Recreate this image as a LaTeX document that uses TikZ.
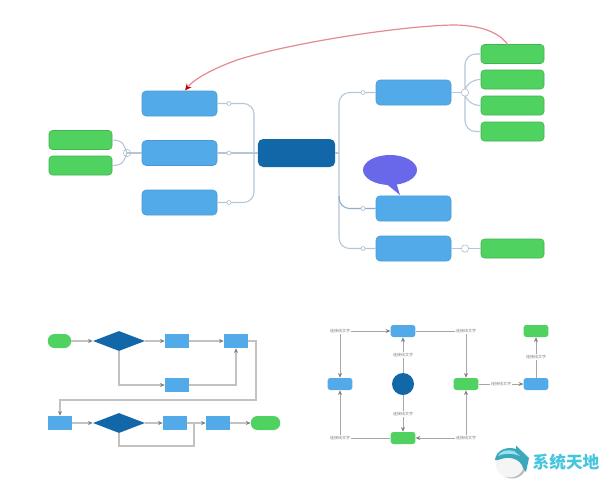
\documentclass[tikz,border=0pt]{standalone}
\usepackage{fontspec}
\newfontfamily\cjk{Noto Sans CJK SC}
\usetikzlibrary{arrows.meta,shapes.geometric}
\definecolor{cblue}{HTML}{52ABE8}
\definecolor{cgreen}{HTML}{4FD25F}
\definecolor{cdark}{HTML}{1267A8}
\definecolor{cline}{HTML}{B4C6D9}
\definecolor{cgray}{HTML}{C2C2C2}
\definecolor{cviolet}{HTML}{6A68EA}
\definecolor{cred}{HTML}{E58A92}
\definecolor{cmark}{HTML}{45C6DC}
\tikzset{
  x=0.75pt,y=-0.75pt,
  bigblue/.style={draw=cblue!90!black,line width=0.4pt,fill=cblue,rounded corners=3pt,minimum width=56.25pt,minimum height=18.75pt,inner sep=0pt},
  biggreen/.style={draw=cgreen!85!black,line width=0.4pt,fill=cgreen,rounded corners=2.5pt,minimum width=47.25pt,minimum height=14.25pt,inner sep=0pt},
  rootbox/.style={fill=cdark,rounded corners=4pt,minimum width=58pt,minimum height=21pt,inner sep=0pt},
  tree/.style={draw=cline,line width=0.8pt,rounded corners=8pt},
  knob/.style={circle,draw=cline!80!gray,fill=white,line width=0.4pt,minimum size=3pt,inner sep=0pt},
  bigknob/.style={circle,draw=cline!80!gray,fill=white,line width=0.4pt,minimum size=5.5pt,inner sep=0pt},
  fblue/.style={fill=cblue,minimum width=18pt,minimum height=10.5pt,inner sep=0pt},
  fterm/.style={fill=cgreen,rounded corners=5pt,minimum height=10.5pt,inner sep=0pt},
  fdia/.style={diamond,aspect=2.6,fill=cdark,minimum width=39pt,minimum height=15pt,inner sep=0pt},
  flow/.style={draw=cgray,line width=0.8pt,-{Stealth[length=3.5pt,width=3pt,color=gray]}},
  flowplain/.style={draw=cgray,line width=0.8pt},
  cbox/.style={rounded corners=2pt,minimum width=18.5pt,minimum height=9pt,inner sep=0pt},
  link/.style={draw=gray!70,line width=0.6pt,-{Stealth[length=3.5pt,width=3pt,color=gray]}},
  linkplain/.style={draw=gray!70,line width=0.6pt},
  % NOTE: the reference's connector labels are illegible; their wording below is a guess, not a transcription
  tiny/.style={font=\fontsize{3}{3.5}\selectfont\cjk,text=gray,fill=white,inner sep=0.8pt}
}
\begin{document}
\begin{tikzpicture}
\useasboundingbox (0,0) rectangle (600,479);
\fill[white] (0,0) rectangle (600,479);
% mind map nodes
\node[rootbox] (root) at (296.5,153) {};
\node[bigblue] (l1) at (179.5,103.5) {};
\node[bigblue] (l2) at (179.5,153) {};
\node[bigblue] (l3) at (179.5,202.5) {};
\node[biggreen] (gl1) at (80.5,140) {};
\node[biggreen] (gl2) at (80.5,165.5) {};
\node[bigblue] (r1) at (413.5,92.5) {};
\node[bigblue,minimum height=19pt] (r2) at (413.5,208.5) {};
\node[bigblue] (r3) at (413.5,248.5) {};
\node[biggreen] (g1) at (512.5,54) {};
\node[biggreen] (g2) at (512.5,79.5) {};
\node[biggreen] (g3) at (512.5,105.5) {};
\node[biggreen] (g4) at (512.5,131.5) {};
\node[biggreen] (g5) at (512.5,248.5) {};
\coordinate (jl) at (127,153);
\coordinate (jr) at (465,92.5);
\coordinate (jg) at (465,248.5);
\coordinate (tr) at (339,153);
\coordinate (redstart) at (508,45);
\coordinate (redend) at (185,90.5);
% mind map connectors
\draw[tree] (l1.east) -- (254,103.5) -- (254,202.5) -- (l3.east);
\draw[tree] (l2.east) -- (root.west);
\draw[tree] (root.east) -- (tr);
\draw[tree] (r1.west) -- (339,92.5) -- (339,248.5) -- (r3.west);
\draw[tree,draw=cline!75!cdark] (339,196) |- (r2.west);
\draw[tree] (r1.east) -- (jr);
\draw[tree] (g1.west) -- (465,54) -- (465,131.5) -- (g4.west);
\draw[tree] (jr) to[out=90,in=180] (g2.west);
\draw[tree] (jr) to[out=-90,in=180] (g3.west);
\draw[tree] (r3.east) -- (g5.west);
\draw[tree] (l2.west) -- (jl);
\draw[tree] (gl1.east) .. controls (124,140) and (124,146) .. (jl);
\draw[tree] (gl2.east) .. controls (124,165.5) and (124,160) .. (jl);
\node[knob] (k1) at (229,103.5) {};
\node[knob] (k2) at (229,153) {};
\node[knob] (k3) at (229,202.5) {};
\node[knob] (k4) at (363,92.5) {};
\node[knob] (k5) at (363,208.5) {};
\node[knob] (k6) at (363,248.5) {};
\node[bigknob] (k7) at (jr) {};
\node[bigknob] (k8) at (jg) {};
\node[bigknob,fill=none] (k9) at (jl) {};
% balloon
\fill[cviolet] (390,170) ellipse (27 and 15);
\fill[cviolet] (384,182) -- (400,195) -- (396,182) -- cycle;
% red relation
\draw[cred,line width=0.9pt,-{Stealth[length=5pt,width=4.5pt,color=red!75!black]}] (redstart) .. controls (498,30) and (475,25) .. (453,25) .. controls (400,26) and (290,43) .. (237,60) .. controls (215,68) and (195,78) .. (redend);
% flowchart
\node[fterm,minimum width=17.5pt] (s) at (59.5,341) {};
\node[fdia] (d1) at (119,341) {};
\node[fblue] (a1) at (177,341) {};
\node[fblue] (a2) at (236,341) {};
\node[fblue] (a3) at (177,385) {};
\node[fblue] (b1) at (60,423) {};
\node[fdia] (d2) at (119,423) {};
\node[fblue] (b2) at (175,423) {};
\node[fblue] (b3) at (218,423) {};
\node[fterm,minimum width=22pt] (e) at (265.5,423) {};
\draw[flow] (s) -- (d1);
\draw[flow] (d1) -- (a1);
\draw[flow] (a1) -- (a2);
\draw[flow] (d1.south) |- (a3.west);
\draw[flow] (a3.east) -| (a2.south);
\draw[flow] (a2.east) -- (256,341) -- (256,400) -- (60,400) -- (b1.north);
\draw[flow] (b1) -- (d2);
\draw[flow] (d2) -- (b2);
\draw[flow] (b2) -- (b3);
\draw[flow] (b3) -- (e);
\draw[flowplain] (d2.south) -- (119,446) -- (194,446) -- (194,423);
% concept map
\node[cbox,fill=cblue] (ct) at (403,331) {};
\node[cbox,fill=cblue] (cl) at (340,384) {};
\node[circle,fill=cdark,minimum size=16.5pt,inner sep=0pt] (cc) at (403,384) {};
\node[cbox,fill=cgreen] (cr) at (466,384) {};
\node[cbox,fill=cblue] (cf) at (536,384) {};
\node[cbox,fill=cgreen] (cu) at (536,331) {};
\node[cbox,fill=cgreen] (cb) at (403,438) {};
\node[tiny] (t1) at (340,331) {连接线文字};
\node[tiny] (t2) at (466,331) {连接线文字};
\node[tiny] (t3) at (340,438) {连接线文字};
\node[tiny] (t4) at (466,438) {连接线文字};
\node[tiny] (t5) at (403,355) {连接线文字};
\node[tiny] (t6) at (403,414) {连接线文字};
\node[tiny] (t7) at (501,384) {连接线文字};
\node[tiny] (t8) at (536,357) {连接线文字};
\draw[link] (t1) -- (ct);
\draw[link] (t1) -- (cl);
\draw[linkplain] (ct) -- (t2);
\draw[link] (t2) -- (cr);
\draw[linkplain] (cb) -- (t3);
\draw[link] (t3) -- (cl);
\draw[link] (t4) -- (cb);
\draw[link] (t4) -- (cr);
\draw[linkplain] (cc) -- (t5);
\draw[link] (t5) -- (ct);
\draw[linkplain] (cc) -- (t6);
\draw[link] (t6) -- (cb);
\draw[linkplain] (cr) -- (t7);
\draw[link] (t7) -- (cf);
\draw[linkplain] (cf) -- (t8);
\draw[link] (t8) -- (cu);
% watermark
\fill[gray!55] (512,464) circle (14.5);
\fill[gray!8] (510,463) circle (14.5);
\fill[cmark!85!black] (495,460) .. controls (496,450) and (507,446) .. (516,449) -- (516,445.5) -- (529,458) -- (526,472) -- (523,468) .. controls (521,460) and (512,457) .. (505,458) .. controls (500,459) and (497,461) .. (495,460) -- cycle;
\fill[cmark!55!white] (498,456) .. controls (500,451) and (507,449) .. (514,451) -- (520,456) .. controls (512,453) and (504,453) .. (498,456) -- cycle;
\node[font=\fontsize{12.5}{14}\selectfont\bfseries\cjk,text=cmark,inner sep=0pt] (wm) at (566,462) {系统天地};
\end{tikzpicture}
\end{document}
